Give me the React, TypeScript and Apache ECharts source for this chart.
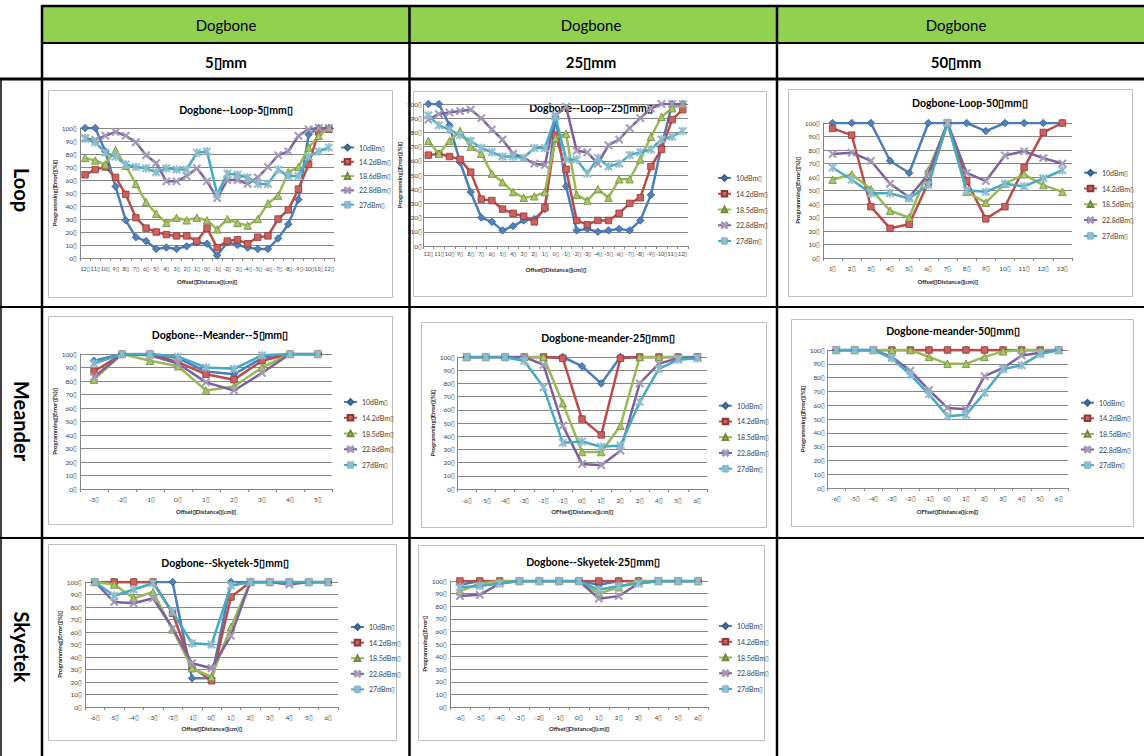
import React, { useEffect, useRef } from "react";
import * as echarts from "echarts";

const B = "\u25AF";
const FONT = "Lato, 'Liberation Sans', sans-serif";

// ---------- categories ----------
const loopCats = ["12", "11", "10", "9", "8", "7", "6", "5", "4", "3", "2", "1", "0", "-1", "-2", "-3", "-4", "-5", "-6", "-7", "-8", "-9", "-10", "11", "12"];
const loop50Cats = ["1", "2", "3", "4", "5", "6", "7", "8", "9", "10", "11", "12", "13"];
const meander5Cats = ["-3", "-2", "-1", "0", "1", "2", "3", "4", "5"];
const sixCats = ["-6", "-5", "-4", "-3", "-2", "-1", "0", "1", "2", "3", "4", "5", "6"];

// ---------- legend names ----------
const names185 = [`10dBm${B}`, `14.2dBm${B}`, `18.5dBm${B}`, `22.8dBm${B}`, `27dBm${B}`];
const names186 = [`10dBm${B}`, `14.2dBm${B}`, `18.6dBm${B}`, `22.8dBm${B}`, `27dBm${B}`];

// ---------- Dogbone Loop 5 mm ----------
const loop5_10 = [100, 100, 82, 55, 29, 16, 13, 7, 8, 7, 9, 12, 11, 2, 12, 10, 8, 7, 7, 15, 26, 45, 95, 100, 100];
const loop5_14 = [64, 68, 70, 62, 49, 31, 23, 20, 18, 17, 17, 13, 23, 8, 13, 14, 11, 16, 17, 30, 37, 53, 72, 97, 99];
const loop5_18 = [77, 75, 72, 83, 71, 57, 43, 34, 27, 31, 29, 31, 29, 22, 30, 27, 25, 30, 42, 48, 66, 70, 85, 94, 100];
const loop5_22 = [92, 91, 94, 97, 94, 89, 79, 73, 59, 59, 63, 69, 59, 46, 60, 60, 57, 62, 70, 79, 82, 94, 99, 100, 100];
const loop5_27 = [92, 89, 81, 78, 72, 70, 69, 66, 69, 68, 68, 81, 82, 49, 65, 64, 62, 57, 57, 68, 63, 63, 78, 82, 85];

// ---------- Dogbone Loop 25 mm ----------
const loop25_10 = [100, 100, 85, 59, 38, 20, 17, 11, 14, 18, 19, 26, 91, 42, 11, 12, 10, 11, 12, 11, 18, 36, 70, 100, 100];
const loop25_14 = [64, 65, 63, 61, 52, 33, 32, 26, 23, 21, 17, 27, 78, 54, 18, 15, 18, 18, 23, 30, 34, 56, 68, 89, 96];
const loop25_18 = [74, 65, 74, 81, 70, 65, 51, 45, 38, 34, 35, 38, 76, 79, 36, 32, 40, 34, 47, 47, 61, 77, 91, 97, 100];
const loop25_22 = [89, 93, 94, 95, 96, 90, 82, 75, 65, 62, 58, 57, 92, 98, 67, 66, 58, 71, 75, 83, 90, 97, 100, 100, 100];
const loop25_27 = [92, 85, 82, 78, 74, 69, 66, 63, 63, 62, 69, 69, 91, 61, 61, 51, 62, 56, 58, 64, 66, 68, 75, 77, 81];

// ---------- Dogbone Loop 50 mm ----------
const loop50_10 = [100, 100, 100, 72, 63, 100, 100, 100, 94, 100, 100, 100, 100];
const loop50_14 = [96, 91, 38, 22, 25, 56, 100, 57, 29, 38, 67, 93, 100];
const loop50_18 = [58, 62, 51, 35, 30, 65, 100, 49, 41, 55, 62, 54, 49];
const loop50_22 = [77, 78, 72, 55, 45, 62, 100, 63, 57, 76, 79, 74, 70];
const loop50_27 = [67, 58, 48, 48, 44, 54, 100, 50, 49, 55, 53, 59, 65];

// ---------- Dogbone Meander 5 mm ----------
const mea5_10 = [95, 100, 100, 97, 87, 85, 97, 100, 100];
const mea5_14 = [87, 100, 100, 94, 85, 81, 95, 100, 100];
const mea5_18 = [81, 100, 95, 91, 73, 76, 90, 100, 100];
const mea5_22 = [83, 100, 99, 93, 79, 73, 86, 100, 100];
const mea5_27 = [93, 100, 100, 98, 90, 89, 99, 100, 100];

// ---------- Dogbone meander 25 mm ----------
const mea25_10 = [100, 100, 100, 100, 100, 100, 93, 80, 100, 100, 100, 100, 100];
const mea25_14 = [100, 100, 100, 100, 100, 99, 53, 41, 99, 100, 100, 100, 100];
const mea25_18 = [100, 100, 100, 100, 100, 65, 28, 28, 48, 100, 100, 100, 100];
const mea25_22 = [100, 100, 100, 100, 94, 48, 19, 18, 29, 80, 95, 99, 100];
const mea25_27 = [100, 100, 100, 97, 77, 35, 36, 32, 33, 66, 91, 98, 99];

// ---------- Dogbone meander 50 mm ----------
const mea50_10 = [100, 100, 100, 100, 100, 100, 100, 100, 100, 100, 100, 100, 100];
const mea50_14 = [100, 100, 100, 100, 100, 100, 100, 100, 100, 100, 100, 100, 100];
const mea50_18 = [100, 100, 100, 100, 100, 95, 90, 90, 95, 99, 100, 100, 100];
const mea50_22 = [100, 100, 100, 95, 85, 71, 58, 57, 81, 87, 96, 98, 100];
const mea50_27 = [100, 100, 100, 94, 82, 68, 52, 53, 69, 86, 89, 97, 100];

// ---------- Dogbone Skyetek 5 mm ----------
const sky5_10 = [100, 100, 100, 100, 100, 23, 23, 100, 100, 100, 100, 100, 100];
const sky5_14 = [100, 100, 100, 100, 75, 32, 21, 88, 100, 100, 100, 100, 100];
const sky5_18 = [100, 98, 87, 92, 62, 31, 24, 64, 100, 100, 100, 100, 100];
const sky5_22 = [100, 84, 83, 87, 63, 35, 31, 57, 100, 100, 98, 100, 100];
const sky5_27 = [100, 89, 94, 99, 76, 51, 50, 97, 100, 100, 100, 100, 100];

// ---------- Dogbone Skyetek 25 mm ----------
const sky25_10 = [97, 100, 100, 100, 100, 100, 100, 97, 100, 100, 100, 100, 100];
const sky25_14 = [100, 100, 100, 100, 100, 100, 100, 100, 100, 100, 100, 100, 100];
const sky25_18 = [92, 98, 100, 100, 100, 100, 100, 90, 95, 100, 100, 100, 100];
const sky25_22 = [88, 89, 98, 100, 100, 100, 100, 86, 88, 98, 100, 100, 100];
const sky25_27 = [95, 96, 98, 100, 100, 100, 100, 93, 96, 98, 100, 100, 100];

// ---------- table text ----------
const headerTop = ["Dogbone", "Dogbone", "Dogbone"];
const headerSub = [`5${B}mm`, `25${B}mm`, `50${B}mm`];
const rowLabels = ["Loop", "Meander", "Skyetek"];

const yNamePct = `Programming${B}Error${B}(%)${B}`;
const yNamePlain = `Programming${B}Error${B}`;
const xNameA = `Offset${B}Distance${B}(cm)${B}`;
const xNameB = `OFfset${B}Distance${B}(cm)${B}`;

const XPATH = "path://M0,1.3L1.3,0L5,3.7L8.7,0L10,1.3L6.3,5L10,8.7L8.7,10L5,6.3L1.3,10L0,8.7L3.7,5Z";
const STARPATH = "path://M0,1.3L1.3,0L5,3.7L8.7,0L10,1.3L6.3,5L10,8.7L8.7,10L5,6.3L1.3,10L0,8.7L3.7,5Z M4.35,0L5.65,0L5.65,10L4.35,10Z";

const STYLES = [
  { line: "#4A7EBB", fill: "#4F81BD", border: "#385D8A", symbol: "diamond", size: 7.5 },
  { line: "#BE4B48", fill: "#D0605D", border: "#8C3836", symbol: "rect", size: 6.5 },
  { line: "#98B954", fill: "#A6C766", border: "#71893F", symbol: "triangle", size: 7.5 },
  { line: "#7D60A0", fill: "#A39AB8", border: "#A39AB8", symbol: XPATH, size: 8 },
  { line: "#46AAC5", fill: "#8FBCCC", border: "#8FBCCC", symbol: STARPATH, size: 8 },
];

type Panel = {
  title: string;
  tc: [number, number];
  cats: string[];
  data: number[][];
  names: string[];
  grid: [number, number, number, number];
  legend: [number, number, number];
  box: [number, number, number, number];
  yName: string;
  xName: string;
  yGap: number;
  xGap: number;
  yMargin: number;
  xMargin: number;
  xFont: number;
};

const panels: Panel[] = [
  {
    title: `Dogbone--Loop-5${B}mm${B}`, tc: [236, 110], cats: loopCats,
    data: [loop5_10, loop5_14, loop5_18, loop5_22, loop5_27], names: names186,
    grid: [80, 128, 254, 130], legend: [340, 143.5, 6.3], box: [48, 90, 392, 297],
    yName: yNamePct, xName: xNameA, yGap: 17, xGap: 20, yMargin: 3, xMargin: 7.5, xFont: 5.5,
  },
  {
    title: `Dogbone--Loop--25${B}mm${B}`, tc: [591, 108], cats: loopCats,
    data: [loop25_10, loop25_14, loop25_18, loop25_22, loop25_27], names: names185,
    grid: [423, 104, 265, 142], legend: [717, 174, 7.75], box: [413, 91, 766, 296],
    yName: yNamePct, xName: xNameA, yGap: 3, xGap: 20, yMargin: 1, xMargin: 4.5, xFont: 5.5,
  },
  {
    title: `Dogbone-Loop-50${B}mm${B}`, tc: [970, 103], cats: loop50Cats,
    data: [loop50_10, loop50_14, loop50_18, loop50_22, loop50_27], names: names185,
    grid: [823, 123, 249, 135], legend: [1083, 168.7, 7.8], box: [788, 89, 1132, 296],
    yName: yNamePct, xName: xNameA, yGap: 19, xGap: 20, yMargin: 3, xMargin: 6.5, xFont: 6.5,
  },
  {
    title: `Dogbone--Meander--5${B}mm${B}`, tc: [220, 335], cats: meander5Cats,
    data: [mea5_10, mea5_14, mea5_18, mea5_22, mea5_27], names: names185,
    grid: [80, 354, 252, 135], legend: [343, 398, 7.75], box: [48, 316, 392, 524],
    yName: yNamePct, xName: xNameA, yGap: 19, xGap: 19, yMargin: 3, xMargin: 6.5, xFont: 6.5,
  },
  {
    title: `Dogbone-meander-25${B}mm${B}`, tc: [608, 338], cats: sixCats,
    data: [mea25_10, mea25_14, mea25_18, mea25_22, mea25_27], names: names185,
    grid: [457, 357, 250, 132], legend: [718, 401.7, 7.75], box: [421, 322, 766, 527],
    yName: yNamePct, xName: xNameB, yGap: 20, xGap: 19, yMargin: 2, xMargin: 7.5, xFont: 6.5,
  },
  {
    title: `Dogbone-meander-50${B}mm${B}`, tc: [953, 331], cats: sixCats,
    data: [mea50_10, mea50_14, mea50_18, mea50_22, mea50_27], names: names185,
    grid: [827, 350, 241, 138], legend: [1080, 398.7, 7.6], box: [791, 319, 1133, 526],
    yName: yNamePct, xName: xNameB, yGap: 18, xGap: 20, yMargin: 2, xMargin: 6.5, xFont: 6.5,
  },
  {
    title: `Dogbone--Skyetek-5${B}mm${B}`, tc: [225, 563], cats: sixCats,
    data: [sky5_10, sky5_14, sky5_18, sky5_22, sky5_27], names: names185,
    grid: [85, 582, 253, 125], legend: [350, 623, 7.6], box: [48, 544, 396, 740],
    yName: yNamePct, xName: xNameA, yGap: 19, xGap: 18, yMargin: 3, xMargin: 6.5, xFont: 6.5,
  },
  {
    title: `Dogbone--Skyetek-25${B}mm${B}`, tc: [593, 562], cats: sixCats,
    data: [sky25_10, sky25_14, sky25_18, sky25_22, sky25_27], names: names185,
    grid: [450, 581, 258, 126], legend: [718, 622, 7.75], box: [418, 545, 764, 740],
    yName: yNamePlain, xName: xNameA, yGap: 17, xGap: 18, yMargin: 3, xMargin: 6.5, xFont: 6.5,
  },
];

function buildOption() {
  const labelStyle = { fontSize: 6.5, color: "#404040", fontFamily: FONT };
  const nameStyle = { fontSize: 6, color: "#262626", fontWeight: "bold", fontFamily: FONT };

  const grid = panels.map((p) => ({
    left: p.grid[0], top: p.grid[1], width: p.grid[2], height: p.grid[3],
    containLabel: false, outerBoundsMode: "none",
  }));

  const xAxis = panels.map((p, i) => ({
    type: "category", gridIndex: i, data: p.cats, boundaryGap: true,
    axisLine: { show: true, lineStyle: { color: "#868686", width: 1 } },
    axisTick: { show: true, length: 3, interval: 0, inside: false, lineStyle: { color: "#868686" } },
    axisLabel: { ...labelStyle, fontSize: p.xFont, interval: 0, margin: p.xMargin, formatter: (v: string) => v + B },
    splitLine: { show: false },
    name: p.xName, nameLocation: "middle", nameGap: p.xGap, nameTextStyle: nameStyle,
  }));

  const yAxis = panels.map((p, i) => ({
    type: "value", gridIndex: i, min: 0, max: 100, interval: 10,
    axisLine: { show: true, lineStyle: { color: "#868686", width: 1 } },
    axisTick: { show: false },
    axisLabel: { ...labelStyle, margin: p.yMargin, formatter: (v: number) => v + B },
    splitLine: { show: true, lineStyle: { color: "#868686", width: 1 } },
    name: p.yName, nameLocation: "middle", nameGap: p.yGap, nameRotate: 90, nameTextStyle: nameStyle,
  }));

  const series: any[] = [];
  panels.forEach((p, i) => {
    p.data.forEach((d, k) => {
      const s = STYLES[k];
      series.push({
        type: "line", name: p.names[k], xAxisIndex: i, yAxisIndex: i, data: d,
        symbol: s.symbol, symbolSize: s.size, showSymbol: true,
        lineStyle: { color: s.line, width: 2.5 },
        itemStyle: { color: s.fill, borderColor: s.border, borderWidth: 0.8 },
        emphasis: { disabled: true }, z: 2 + k * 0.01,
      });
    });
  });

  const legend = panels.map((p) => ({
    orient: "vertical", left: p.legend[0], top: p.legend[1], itemGap: p.legend[2],
    itemWidth: 13, itemHeight: 7, padding: 0, selectedMode: false, data: p.names,
    textStyle: { fontSize: 7, color: "#404040", fontFamily: FONT, lineHeight: 8 },
  }));

  const g: any[] = [];
  g.push({ type: "rect", shape: { x: 42, y: 6, width: 1102, height: 37 }, style: { fill: "#92D050" } });
  panels.forEach((p) => {
    g.push({
      type: "rect", shape: { x: p.box[0] + 0.5, y: p.box[1] + 0.5, width: p.box[2] - p.box[0], height: p.box[3] - p.box[1] },
      style: { fill: "none", stroke: "#BDBDBD", lineWidth: 1 },
    });
    g.push({
      type: "text", x: p.tc[0], y: p.tc[1],
      style: { text: p.title, fill: "#000", font: `bold 10.5px ${FONT}`, align: "center", verticalAlign: "middle", textAlign: "center", textVerticalAlign: "middle" },
    });
  });
  const L = (x1: number, y1: number, x2: number, y2: number, w: number) =>
    g.push({ type: "line", shape: { x1, y1, x2, y2 }, style: { stroke: "#000", lineWidth: w } });
  L(42, 6, 1144, 6, 2.5);
  L(42, 43, 1144, 43, 2);
  L(0, 79, 1144, 79, 3);
  L(0, 307, 1144, 307, 2);
  L(0, 538, 1144, 538, 2);
  L(42, 5, 42, 756, 2.5);
  L(409.5, 5, 409.5, 756, 2.5);
  L(777, 5, 777, 756, 2.5);
  L(1, 79, 1, 756, 1.5);
  const colCx = [226, 591, 956];
  headerTop.forEach((t, i) =>
    g.push({ type: "text", x: colCx[i], y: 25, style: { text: t, fill: "#000", font: `15px ${FONT}`, align: "center", verticalAlign: "middle", textAlign: "center", textVerticalAlign: "middle" } })
  );
  headerSub.forEach((t, i) =>
    g.push({ type: "text", x: colCx[i], y: 62, style: { text: t, fill: "#000", font: `bold 15px ${FONT}`, align: "center", verticalAlign: "middle", textAlign: "center", textVerticalAlign: "middle" } })
  );
  const rowCy = [190, 421, 647];
  rowLabels.forEach((t, i) =>
    g.push({ type: "text", x: 22, y: rowCy[i], rotation: -Math.PI / 2, style: { text: t, fill: "#000", font: `bold 20px ${FONT}`, align: "center", verticalAlign: "middle", textAlign: "center", textVerticalAlign: "middle" } })
  );

  return {
    animation: false,
    backgroundColor: "#ffffff",
    grid, xAxis, yAxis, series, legend,
    graphic: { elements: g },
  };
}

export default function App() {
  const ref = useRef<HTMLDivElement>(null);
  useEffect(() => {
    if (!ref.current) return;
    const chart = echarts.init(ref.current, undefined, { renderer: "svg" });
    chart.setOption(buildOption() as any);
    return () => chart.dispose();
  }, []);
  return (
    <div
      ref={ref}
      style={{ position: "fixed", left: 0, top: 0, width: 1144, height: 756, background: "#fff" }}
    />
  );
}
